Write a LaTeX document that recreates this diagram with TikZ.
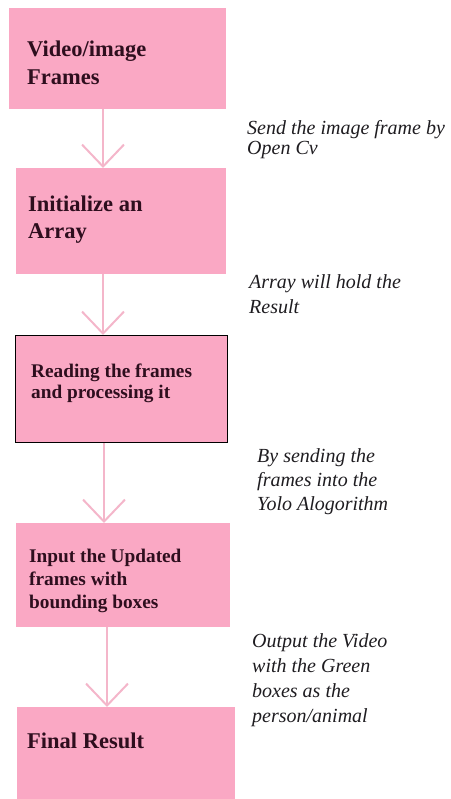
\documentclass[tikz,border=0pt]{standalone}
\usepackage{fontspec}
\setmainfont{Liberation Serif}
\usetikzlibrary{arrows.meta}
\definecolor{boxpink}{RGB}{250,168,196}
\definecolor{arrpink}{RGB}{244,182,202}
\definecolor{boxtext}{RGB}{46,14,30}
\definecolor{notetext}{RGB}{30,28,32}
\newcommand{\stk}[2]{\vtop{\baselineskip=#1\lineskiplimit=-100pt\lineskip=0pt\halign{##\hfil\cr#2\crcr}}}
\begin{document}
\begin{tikzpicture}[x=1pt,y=-1pt,
  box/.style={fill=boxpink, draw=none, inner sep=0pt, anchor=north west},
  framed/.style={box, draw=black, line width=1.1pt},
  bigtext/.style={inner sep=0pt, anchor=base west, text=boxtext, font=\bfseries\fontsize{22.5}{27}\selectfont},
  midtext/.style={inner sep=0pt, anchor=base west, text=boxtext, font=\bfseries\fontsize{19.3}{22}\selectfont},
  note/.style={inner sep=0pt, anchor=base west, text=notetext, font=\itshape\fontsize{20}{24}\selectfont},
  arr/.style={draw=arrpink, line width=2pt, -{Straight Barb[length=22pt, width=42pt]}}]
\useasboundingbox (0,0) rectangle (450,799);
% boxes
\node[box, minimum width=217, minimum height=101] (b1) at (9,8) {};
\node[box, minimum width=210, minimum height=106] (b2) at (16,168) {};
\node[framed, minimum width=212, minimum height=107] (b3) at (15,335) {};
\node[box, minimum width=214, minimum height=104] (b4) at (16,523) {};
\node[box, minimum width=218, minimum height=96] (b5) at (17,707) {};
% box texts
\node[bigtext] (t1) at (27,57) {\stk{28pt}{Video/image\cr Frames}};
\node[bigtext] (t2) at (28,212) {\stk{27pt}{Initialize an\cr Array}};
\node[midtext] (t3) at (31,377) {\stk{21pt}{Reading the frames\cr and processing it}};
\node[midtext] (t4) at (29,562) {\stk{23pt}{Input the Updated\cr frames with\cr bounding boxes}};
\node[bigtext] (t5) at (27,748) {Final Result};
% notes
\node[note] (n1) at (247,135) {\stk{20pt}{Send the image frame by\cr Open Cv}};
\node[note] (n2) at (249,288) {\stk{25.5pt}{Array will hold the\cr Result}};
\node[note] (n3) at (257,462) {\stk{24pt}{By sending the\cr frames into the\cr Yolo Alogorithm}};
\node[note] (n4) at (252,647) {\stk{25pt}{Output the Video\cr with the Green\cr boxes as the\cr person/animal}};
% arrows
\coordinate (x1) at (103,0);
\coordinate (x2) at (103,0);
\coordinate (x3) at (104,0);
\coordinate (x4) at (107,0);
\draw[arr] (b1.south -| x1) -- (b2.north -| x1);
\draw[arr] (b2.south -| x2) -- (b3.north -| x2);
\draw[arr] (b3.south -| x3) -- (b4.north -| x3);
\draw[arr] (b4.south -| x4) -- (b5.north -| x4);
\end{tikzpicture}
\end{document}
